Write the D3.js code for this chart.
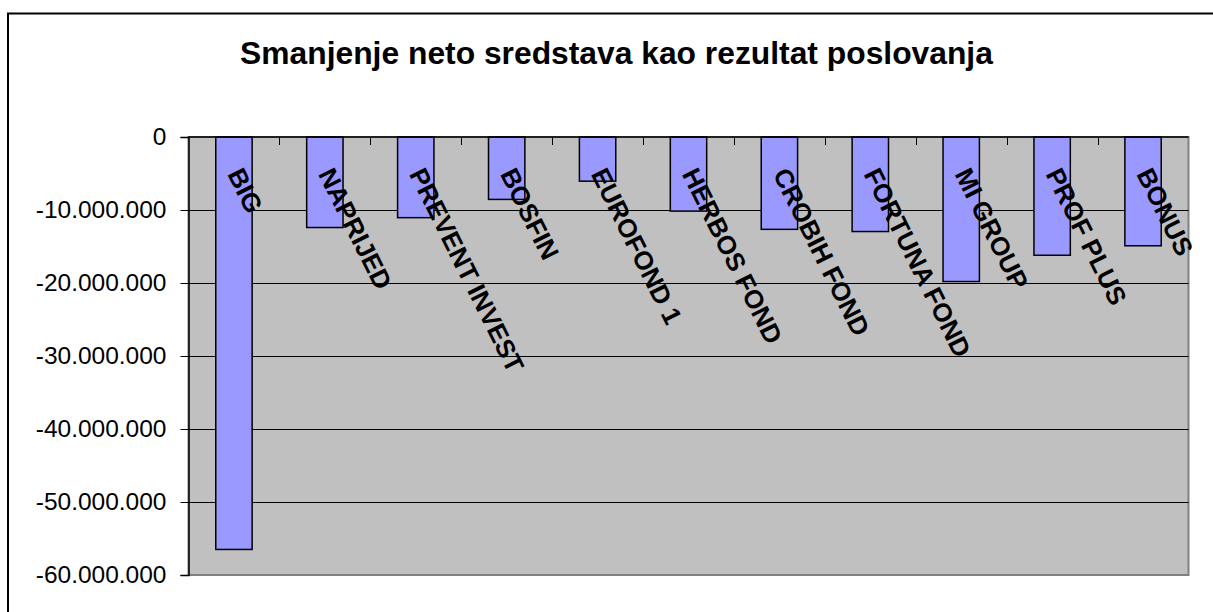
<!DOCTYPE html>
<html>
<head>
<meta charset="utf-8">
<script src="https://cdn.jsdelivr.net/npm/d3@7"></script>
<style>
  body { margin: 0; background: #fff; }
  svg { display: block; font-family: Arial, "Liberation Sans", sans-serif; }
</style>
</head>
<body>
<div id="chart"></div>
<script>
const title = "Smanjenje neto sredstava kao rezultat poslovanja";
const categories = ["BIG", "NAPRIJED", "PREVENT INVEST", "BOSFIN", "EUROFOND 1", "HERBOS FOND",
  "CROBIH FOND", "FORTUNA FOND", "MI GROUP", "PROF PLUS", "BONUS"];
const values = [-56500000, -12400000, -11050000, -8550000, -6050000, -10150000,
  -12650000, -12950000, -19800000, -16200000, -14900000];
const yTicks = [0, -10000000, -20000000, -30000000, -40000000, -50000000, -60000000];

const width = 1213, height = 612;
const plot = { left: 188.5, right: 1188.5, top: 137, bottom: 575 };

const svg = d3.select("#chart").append("svg")
  .attr("width", width)
  .attr("height", height);

// outer chart border (runs off the page on right/bottom)
svg.append("rect")
  .attr("x", 8).attr("y", 13.5)
  .attr("width", 1240).attr("height", 640)
  .attr("fill", "#fff")
  .attr("stroke", "#000")
  .attr("stroke-width", 2);

svg.append("text")
  .attr("x", 616.5).attr("y", 63.5)
  .attr("text-anchor", "middle")
  .attr("font-weight", "bold")
  .attr("font-size", 31.8)
  .text(title);

const x = d3.scaleBand()
  .domain(categories)
  .range([plot.left, plot.right])
  .paddingInner(0.6)
  .paddingOuter(0.3);

const y = d3.scaleLinear()
  .domain([-60000000, 0])
  .range([plot.bottom, plot.top]);

const fmt = d3.formatLocale({ decimal: ",", thousands: ".", grouping: [3], currency: ["", ""], minus: "-" }).format(",d");

// plot area
svg.append("rect")
  .attr("x", plot.left).attr("y", plot.top)
  .attr("width", plot.right - plot.left).attr("height", plot.bottom - plot.top)
  .attr("fill", "#c0c0c0")
  .attr("stroke", "#808080")
  .attr("stroke-width", 2);

// gridlines
svg.append("g")
  .selectAll("line")
  .data(yTicks.slice(1, -1))
  .join("line")
  .attr("x1", plot.left).attr("x2", plot.right)
  .attr("y1", d => Math.round(y(d)) + 0.5).attr("y2", d => Math.round(y(d)) + 0.5)
  .attr("stroke", "#000")
  .attr("stroke-width", 1);

// bars
svg.append("g")
  .selectAll("rect")
  .data(values)
  .join("rect")
  .attr("x", (d, i) => x(categories[i]))
  .attr("y", y(0))
  .attr("width", x.bandwidth())
  .attr("height", d => y(d) - y(0))
  .attr("fill", "#9999ff")
  .attr("stroke", "#000")
  .attr("stroke-width", 1.5);

// y axis
const yAxis = svg.append("g")
  .attr("transform", `translate(${plot.left},0)`)
  .call(d3.axisLeft(y).tickValues(yTicks).tickFormat(fmt).tickSize(8).tickPadding(14));
yAxis.select(".domain").attr("stroke", "#000").attr("stroke-width", 1.5);
yAxis.selectAll(".tick line").attr("stroke", "#000");
yAxis.selectAll("text")
  .attr("font-size", 24.5)
  .attr("font-family", "Arial, 'Liberation Sans', sans-serif")
  .attr("fill", "#000");

// category axis at zero line, ticks between categories pointing into plot
const catTicks = d3.range(1, categories.length).map(i => plot.left + i * (plot.right - plot.left) / categories.length);
svg.append("g")
  .selectAll("line")
  .data(catTicks)
  .join("line")
  .attr("x1", d => Math.round(d) + 0.5).attr("x2", d => Math.round(d) + 0.5)
  .attr("y1", y(0)).attr("y2", y(0) + 8)
  .attr("stroke", "#000");
svg.append("line")
  .attr("x1", plot.left).attr("x2", plot.right)
  .attr("y1", y(0)).attr("y2", y(0))
  .attr("stroke", "#000")
  .attr("stroke-width", 1.5);

// rotated category labels
svg.append("g")
  .selectAll("text")
  .data(categories)
  .join("text")
  .attr("transform", d => `translate(${x(d) + x.bandwidth() / 2 - 7},${y(0) + 37}) rotate(63.5)`)
  .attr("font-size", 26)
  .attr("font-weight", "bold")
  .text(d => d);
</script>
</body>
</html>
